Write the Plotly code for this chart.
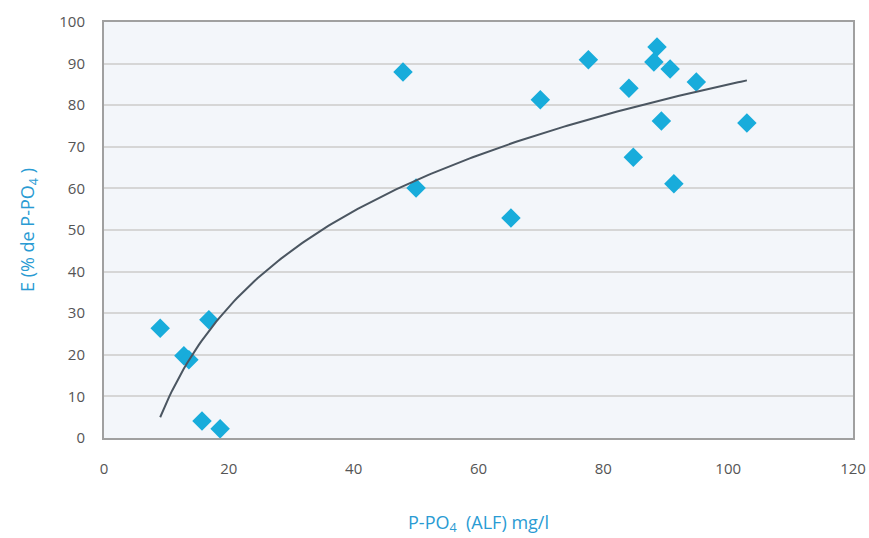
import numpy as np
import plotly.graph_objects as go

# Measured samples: phosphate (ALF) vs. removal efficiency
p_po4_alf = [9.0, 12.8, 13.6, 16.8, 15.7, 18.6, 47.9, 50.0, 65.2, 69.9, 77.6,
             84.1, 84.8, 88.6, 88.1, 90.7, 89.3, 91.3, 94.9, 103.0]
efficiency = [26.4, 19.8, 18.8, 28.4, 4.1, 2.2, 88.0, 60.1, 52.9, 81.3, 90.9,
              84.1, 67.5, 94.0, 90.4, 88.7, 76.2, 61.1, 85.6, 75.7]

x_ticks = [0, 20, 40, 60, 80, 100, 120]
y_ticks = [0, 10, 20, 30, 40, 50, 60, 70, 80, 90, 100]

# Logarithmic trend line fitted to the samples
xs = np.array(p_po4_alf)
ys = np.array(efficiency)
a, b = np.polyfit(np.log(xs), ys, 1)
trend_x = np.linspace(xs.min(), xs.max(), 200)
trend_y = a * np.log(trend_x) + b

fig = go.Figure()
fig.add_trace(go.Scatter(
    x=p_po4_alf, y=efficiency, mode="markers",
    marker=dict(symbol="diamond", size=15, color="#18acdb",
                line=dict(width=0)),
    showlegend=False, hoverinfo="x+y"))
fig.add_trace(go.Scatter(
    x=trend_x, y=trend_y, mode="lines",
    line=dict(color="#4b5661", width=2), showlegend=False, hoverinfo="skip"))

tick_font = dict(family="Open Sans, sans-serif", size=15, color="#555555")
title_font = dict(family="Open Sans, sans-serif", size=18, color="#2a9bd3")
fig.update_layout(
    width=869, height=538,
    margin=dict(l=104, r=16, t=22, b=100),
    paper_bgcolor="white",
    plot_bgcolor="#f3f6fa",
    xaxis=dict(range=[0, 120], tickvals=x_ticks, showgrid=False, zeroline=False,
               showline=True, linecolor="#a0a0a0", linewidth=2, mirror=True,
               ticks="", tickfont=tick_font, ticklabelstandoff=16, automargin=False,
               title=dict(text="P-PO<sub>4</sub>  (ALF) mg/l", standoff=39, font=title_font)),
    yaxis=dict(range=[0, 100], tickvals=y_ticks, showgrid=True, gridcolor="#d6d6d6",
               gridwidth=2, zeroline=False,
               showline=True, linecolor="#a0a0a0", linewidth=2, mirror=True,
               ticks="", tickfont=tick_font, ticklabelstandoff=14, automargin=False,
               title=dict(text="E (% de P-PO<sub>4</sub> )", standoff=20, font=title_font)),
)

fig.write_html("out.html")
